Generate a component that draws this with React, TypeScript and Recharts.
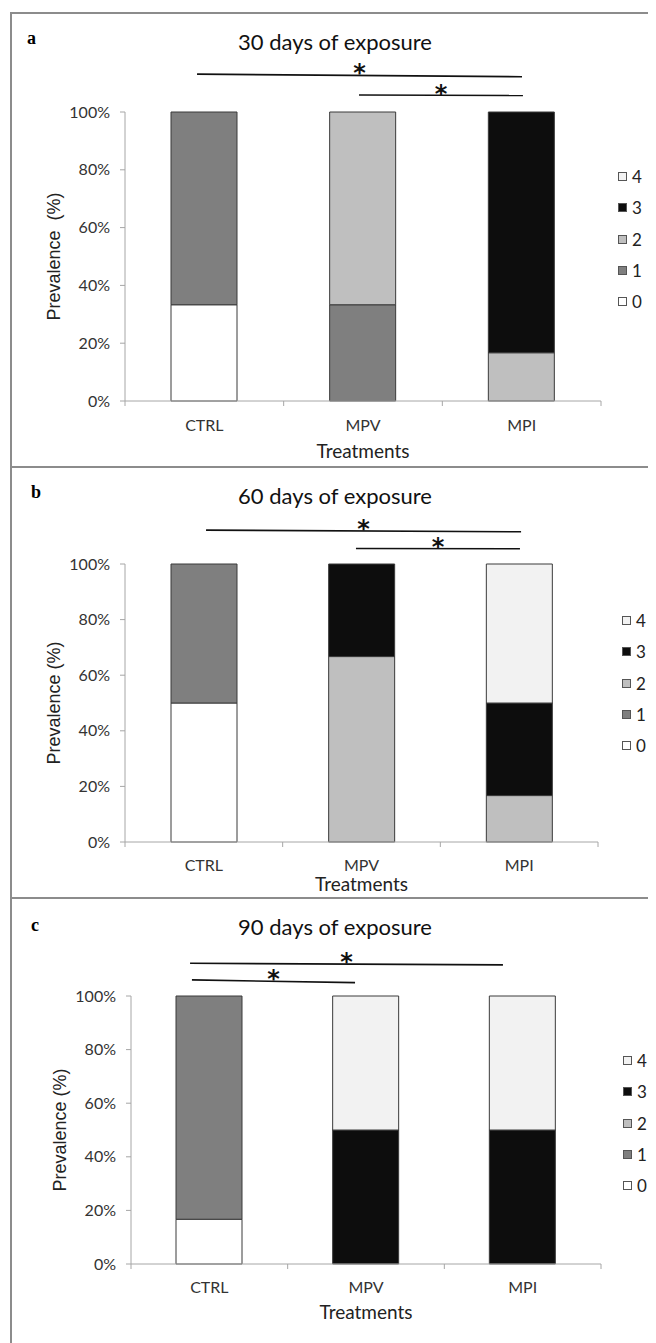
import React from 'react';
import { BarChart, Bar, XAxis, YAxis, Legend, ReferenceLine } from 'recharts';

// ---------- data ----------
const categories = ['CTRL', 'MPV', 'MPI'];
const grades = ['0', '1', '2', '3', '4'];
const gradeColors = ['#ffffff', '#7f7f7f', '#bfbfbf', '#0d0d0d', '#f2f2f2'];
const yTicks = [0, 20, 40, 60, 80, 100];

// 30 days of exposure (prevalence %, per grade, for CTRL / MPV / MPI)
const d30g0 = [33.3, 0, 0];
const d30g1 = [66.7, 33.3, 0];
const d30g2 = [0, 66.7, 16.7];
const d30g3 = [0, 0, 83.3];
const d30g4 = [0, 0, 0];

// 60 days of exposure
const d60g0 = [50, 0, 0];
const d60g1 = [50, 0, 0];
const d60g2 = [0, 66.7, 16.7];
const d60g3 = [0, 33.3, 33.3];
const d60g4 = [0, 0, 50];

// 90 days of exposure
const d90g0 = [16.7, 0, 0];
const d90g1 = [83.3, 0, 0];
const d90g2 = [0, 0, 0];
const d90g3 = [0, 50, 50];
const d90g4 = [0, 50, 50];

// significance brackets (x in category units 0..3, y in %)
const sig30 = [
  { x1: 0.454, y1: 113.1, x2: 2.502, y2: 112.2 },
  { x1: 1.475, y1: 105.9, x2: 2.508, y2: 105.7 },
];
const sig60 = [
  { x1: 0.514, y1: 112.2, x2: 2.512, y2: 111.6 },
  { x1: 1.465, y1: 105.6, x2: 2.505, y2: 105.5 },
];
const sig90 = [
  { x1: 0.377, y1: 112.2, x2: 2.374, y2: 111.6 },
  { x1: 0.389, y1: 106.0, x2: 1.43, y2: 105.0 },
];

const buildRows = (series: number[][]) =>
  categories.map((name, i) => {
    const row: any = { name, pos: i + 0.5 };
    grades.forEach((g, k) => {
      row['g' + g] = series[k][i];
    });
    return row;
  });

const data30 = buildRows([d30g0, d30g1, d30g2, d30g3, d30g4]);
const data60 = buildRows([d60g0, d60g1, d60g2, d60g3, d60g4]);
const data90 = buildRows([d90g0, d90g1, d90g2, d90g3, d90g4]);

// ---------- layout ----------
const panels = [
  {
    letter: 'a', title: '30 days of exposure', yLabel: 'Prevalence\u00a0 (%)',
    data: data30, sig: sig30,
    top: 5, height: 454,
    margin: { top: 99, right: 55, bottom: 36, left: 37 },
    plotW: 476, tickMargin: 18.2, xLabelOffset: 14, yLabelOffset: 9,
    legendLeft: 610, legendTop: 148,
    letterPos: { left: 19, top: 20 }, titleTop: 22,
  },
  {
    letter: 'b', title: '60 days of exposure', yLabel: 'Prevalence (%)',
    data: data60, sig: sig60,
    top: 459, height: 431,
    margin: { top: 97, right: 58, bottom: 26, left: 37 },
    plotW: 473, tickMargin: 17.2, xLabelOffset: 6, yLabelOffset: 9,
    legendLeft: 614, legendTop: 138,
    letterPos: { left: 23, top: 474 }, titleTop: 476,
  },
  {
    letter: 'c', title: '90 days of exposure', yLabel: 'Prevalence (%)',
    data: data90, sig: sig90,
    top: 890, height: 445,
    margin: { top: 98, right: 55, bottom: 49, left: 43 },
    plotW: 470, tickMargin: 17.2, xLabelOffset: 12, yLabelOffset: 9,
    legendLeft: 615, legendTop: 147,
    letterPos: { left: 23, top: 907 }, titleTop: 907,
  },
];

const FONT = 'Lato, "Open Sans", sans-serif';
const AXIS = '#a6a6a6';

const renderLegend = (props: any) => {
  const items = [...(props.payload || [])].reverse();
  return (
    <div style={{ display: 'flex', flexDirection: 'column' }}>
      {items.map((it: any) => (
        <div key={it.value} style={{ height: 31.25, display: 'flex', alignItems: 'center' }}>
          <span
            style={{
              display: 'inline-block', width: 9, height: 9, boxSizing: 'border-box',
              border: '1px solid #555', background: gradeColors[grades.indexOf(String(it.value))],
              marginRight: 5,
            }}
          />
          <span style={{ fontFamily: FONT, fontSize: 17, color: '#222', lineHeight: '17px' }}>{it.value}</span>
        </div>
      ))}
    </div>
  );
};

function Panel({ p }: { p: any }) {
  const catW = p.plotW / 3;
  const renderTick = (props: any) => {
    const { x, y, payload, index } = props;
    const axisY = y - p.tickMargin;
    return (
      <g>
        <line x1={x - catW / 2} x2={x - catW / 2} y1={axisY} y2={axisY + 5} stroke={AXIS} />
        {index === categories.length - 1 && (
          <line x1={x + catW / 2} x2={x + catW / 2} y1={axisY} y2={axisY + 5} stroke={AXIS} />
        )}
        <text x={x} y={y} dy="0.71em" textAnchor="middle" fontFamily={FONT} fontSize={16} fill="#333">
          {payload.value}
        </text>
      </g>
    );
  };
  return (
    <div style={{ position: 'absolute', left: 0, top: p.top, width: 648, height: p.height }}>
      <BarChart width={648} height={p.height} data={p.data} margin={p.margin} barSize={66}>
        <XAxis
          dataKey="name"
          xAxisId={0}
          interval={0}
          tickLine={false}
          tickSize={0}
          tickMargin={p.tickMargin}
          stroke={AXIS}
          tick={renderTick}
          label={{
            value: 'Treatments', position: 'bottom', offset: p.xLabelOffset,
            fontFamily: FONT, fontSize: 19, fill: '#222',
          }}
        />
        <XAxis xAxisId="ann" dataKey="pos" type="number" domain={[0, 3]} allowDataOverflow hide />
        <YAxis
          width={80}
          domain={[0, 100]}
          ticks={yTicks}
          interval={0}
          tickFormatter={(v: number) => `${v}%`}
          tickSize={5}
          tickMargin={10}
          stroke={AXIS}
          tick={{ fill: '#333', fontSize: 16, fontFamily: FONT }}
          label={{
            value: p.yLabel, angle: -90, position: 'insideLeft', offset: p.yLabelOffset,
            style: { textAnchor: 'middle' }, fontFamily: '"Liberation Sans", Arial, sans-serif',
            fontSize: 18, fill: '#222',
          }}
        />
        {grades.map((g, k) => (
          <Bar
            key={g}
            dataKey={'g' + g}
            name={g}
            stackId="s"
            fill={gradeColors[k]}
            stroke="#3a3a3a"
            strokeWidth={1}
            isAnimationActive={false}
          />
        ))}
        {p.sig.map((s: any, i: number) => (
          <ReferenceLine
            key={i}
            xAxisId="ann"
            segment={[{ x: s.x1, y: s.y1 }, { x: s.x2, y: s.y2 }]}
            stroke="#111"
            strokeWidth={1.6}
            ifOverflow="visible"
            label={{
              value: '*', position: 'top', offset: -7,
              fontFamily: '"DejaVu Sans", sans-serif', fontWeight: 'bold', fontSize: 24, fill: '#111',
            }}
          />
        ))}
        <Legend
          layout="horizontal"
          align="center"
          verticalAlign="middle"
          content={renderLegend}
          wrapperStyle={{ left: p.legendLeft, top: p.legendTop, width: 40, height: 160 }}
        />
      </BarChart>
    </div>
  );
}

export default function App() {
  return (
    <div style={{ position: 'relative', width: 648, height: 1335, overflow: 'hidden', background: '#fff' }}>
      {/* panel frames */}
      <div style={{ position: 'absolute', left: 2, top: 4, width: 700, height: 2, background: '#8c8c8c' }} />
      <div style={{ position: 'absolute', left: 2, top: 457.5, width: 700, height: 2, background: '#8c8c8c' }} />
      <div style={{ position: 'absolute', left: 2, top: 889, width: 700, height: 2, background: '#8c8c8c' }} />
      <div style={{ position: 'absolute', left: 2, top: 4, width: 2, height: 1340, background: '#8c8c8c' }} />
      {panels.map((p) => (
        <React.Fragment key={p.letter}>
          <Panel p={p} />
          <div
            style={{
              position: 'absolute', left: p.letterPos.left, top: p.letterPos.top,
              fontFamily: '"Liberation Serif", serif', fontWeight: 'bold', fontSize: 18, lineHeight: '20px',
            }}
          >
            {p.letter}
          </div>
          <div
            style={{
              position: 'absolute', left: 127, width: 400, top: p.titleTop, textAlign: 'center',
              fontFamily: FONT, fontSize: 22, lineHeight: '24px', color: '#111',
            }}
          >
            {p.title}
          </div>
        </React.Fragment>
      ))}
    </div>
  );
}
